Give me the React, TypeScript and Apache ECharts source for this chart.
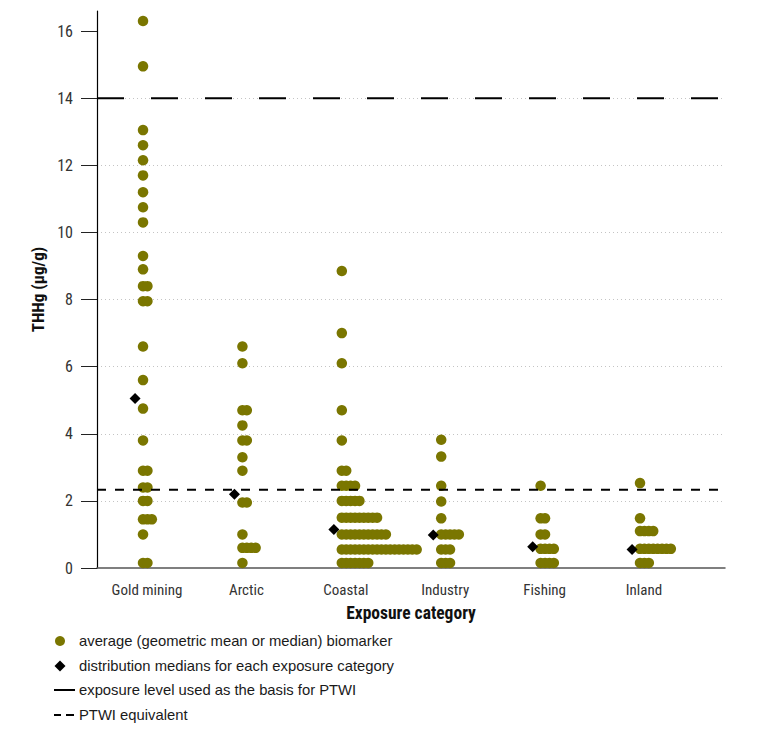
import React, { useEffect, useRef } from "react";
import * as echarts from "echarts";

const categories = ["Gold mining", "Arctic", "Coastal", "Industry", "Fishing", "Inland"];

const goldMining = [16.3, 14.95, 13.05, 12.6, 12.15, 11.7, 11.2, 10.75, 10.3, 9.3, 8.9, 8.4, 8.4, 7.95, 7.95, 6.6, 5.6, 4.75, 3.8, 2.9, 2.9, 2.4, 2.4, 2.0, 2.0, 1.45, 1.45, 1.45, 1.0, 0.15, 0.15];
const arctic = [6.6, 6.1, 4.7, 4.7, 4.25, 3.8, 3.8, 3.3, 2.9, 1.95, 1.95, 1.0, 0.6, 0.6, 0.6, 0.6, 0.15];
const coastal = [8.85, 7.0, 6.1, 4.7, 3.8, 2.9, 2.9, 2.45, 2.45, 2.45, 2.45, 2.0, 2.0, 2.0, 2.0, 2.0,
  1.5, 1.5, 1.5, 1.5, 1.5, 1.5, 1.5, 1.5, 1.5,
  1.0, 1.0, 1.0, 1.0, 1.0, 1.0, 1.0, 1.0, 1.0, 1.0, 1.0,
  0.55, 0.55, 0.55, 0.55, 0.55, 0.55, 0.55, 0.55, 0.55, 0.55, 0.55, 0.55, 0.55, 0.55, 0.55, 0.55, 0.55, 0.55,
  0.15, 0.15, 0.15, 0.15, 0.15, 0.15, 0.15];
const industry = [3.82, 3.32, 2.45, 1.98, 1.48, 1.0, 1.0, 1.0, 1.0, 1.0, 0.55, 0.55, 0.55, 0.15, 0.15, 0.15];
const fishing = [2.45, 1.48, 1.48, 1.0, 1.0, 0.57, 0.57, 0.57, 0.57, 0.15, 0.15, 0.15, 0.15];
const inland = [2.53, 1.48, 1.1, 1.1, 1.1, 1.1, 0.57, 0.57, 0.57, 0.57, 0.57, 0.57, 0.57, 0.57, 0.15, 0.15, 0.15];

const categoryValues = [goldMining, arctic, coastal, industry, fishing, inland];
const medians = [5.05, 2.2, 1.15, 0.98, 0.63, 0.55];
const ptwiBasis = 14;
const ptwiEquivalent = 2.33;
const yTicks = [0, 2, 4, 6, 8, 10, 12, 14, 16];
const xTicks = [0, 1, 2, 3, 4, 5];
const legendLabels = [
  "average (geometric mean or median) biomarker",
  "distribution medians for each exposure category",
  "exposure level used as the basis for PTWI",
  "PTWI equivalent",
];

const OLIVE = "#7a7600";
const FONT = "'Roboto Condensed', 'DejaVu Sans Condensed', sans-serif";
const LEGEND_FONT = "'Liberation Sans', sans-serif";
const X_MIN = -0.503;
const X_MAX = 5.815;
const DOT_BASE = -0.04;
const DOT_STEP = 0.0443;
const MEDIAN_SHIFT = -0.12;

function swarm(values: number[], i: number): number[][] {
  const counts = new Map<number, number>();
  return values.map((v) => {
    const k = counts.get(v) ?? 0;
    counts.set(v, k + 1);
    return [i + DOT_BASE + k * DOT_STEP, v];
  });
}

export default function App() {
  const ref = useRef<HTMLDivElement>(null);
  useEffect(() => {
    if (!ref.current) return;
    const chart = echarts.init(ref.current, undefined, { renderer: "svg" });
    const dots = categoryValues.flatMap((vals, i) => swarm(vals, i));
    const medianPts = medians.map((m, i) => [i + MEDIAN_SHIFT, m]);

    const lx = 79;
    const ly = [641, 666, 690, 715];
    const legendGraphics: any[] = [
      { type: "circle", shape: { cx: lx - 19, cy: ly[0], r: 5 }, style: { fill: OLIVE } },
      {
        type: "polygon",
        shape: { points: [[lx - 19, ly[1] - 5.5], [lx - 13.5, ly[1]], [lx - 19, ly[1] + 5.5], [lx - 24.5, ly[1]]] },
        style: { fill: "#000" },
      },
      { type: "line", shape: { x1: lx - 25, y1: ly[2], x2: lx - 4, y2: ly[2] }, style: { stroke: "#000", lineWidth: 2 } },
      { type: "line", shape: { x1: lx - 25, y1: ly[3], x2: lx - 18, y2: ly[3] }, style: { stroke: "#000", lineWidth: 2 } },
      { type: "line", shape: { x1: lx - 13, y1: ly[3], x2: lx - 5, y2: ly[3] }, style: { stroke: "#000", lineWidth: 2 } },
      ...legendLabels.map((t, i) => ({
        type: "text",
        x: lx,
        y: ly[i],
        style: { text: t, fontFamily: LEGEND_FONT, fontSize: 14.8, fill: "#1a1a1a", verticalAlign: "middle", align: "left" },
      })),
    ];

    chart.setOption({
      animation: false,
      backgroundColor: "#fff",
      grid: { left: 97, right: 46, top: 11, bottom: 172, containLabel: false },
      xAxis: {
        type: "value",
        min: X_MIN,
        max: X_MAX,
        name: "Exposure category",
        nameLocation: "middle",
        nameGap: 36,
        nameTextStyle: { fontFamily: FONT, fontSize: 17.5, fontWeight: "bold", color: "#111" },
        axisLine: { show: true, onZero: false, lineStyle: { color: "#555", width: 1.5 } },
        axisTick: { show: false },
        splitLine: { show: false },
        axisLabel: {
          customValues: xTicks,
          formatter: (v: number) => categories[Math.round(v)] ?? "",
          fontFamily: FONT,
          fontSize: 15,
          color: "#333",
          margin: 14,
        },
      },
      yAxis: {
        type: "value",
        min: 0,
        max: 16.6,
        interval: 2,
        name: "THHg (µg/g)",
        nameLocation: "middle",
        nameGap: 38,
        nameTextStyle: { fontFamily: FONT, fontSize: 17, fontWeight: "bold", color: "#111" },
        axisLine: { show: true, onZero: false, lineStyle: { color: "#000", width: 1.2 } },
        axisTick: { show: true, length: 16, customValues: yTicks, lineStyle: { color: "#222" } },
        axisLabel: { customValues: yTicks, margin: 24, fontFamily: FONT, fontSize: 16, color: "#333" },
        splitLine: { show: true, showMaxLine: false, showMinLine: false, lineStyle: { type: [1, 3], color: "#c4c4c4", width: 1 } },
      },
      series: [
        {
          name: "biomarker",
          type: "scatter",
          data: dots,
          symbol: "circle",
          symbolSize: 10.5,
          itemStyle: { color: OLIVE, opacity: 1 },
          z: 2,
        },
        {
          name: "PTWI basis",
          type: "line",
          data: [[X_MIN, ptwiBasis], [X_MAX, ptwiBasis]],
          symbol: "none",
          lineStyle: { color: "#000", width: 2, type: [27, 27] },
          z: 5,
        },
        {
          name: "PTWI equivalent",
          type: "line",
          data: [[X_MIN, ptwiEquivalent], [X_MAX, ptwiEquivalent]],
          symbol: "none",
          lineStyle: { color: "#000", width: 2, type: [9, 9] },
          z: 5,
        },
        {
          name: "medians",
          type: "scatter",
          data: medianPts,
          symbol: "diamond",
          symbolSize: 11,
          itemStyle: { color: "#000", opacity: 1 },
          z: 6,
        },
      ],
      graphic: legendGraphics,
    });
    return () => chart.dispose();
  }, []);
  return <div ref={ref} style={{ position: "fixed", left: 0, top: 0, width: 771, height: 740 }} />;
}
